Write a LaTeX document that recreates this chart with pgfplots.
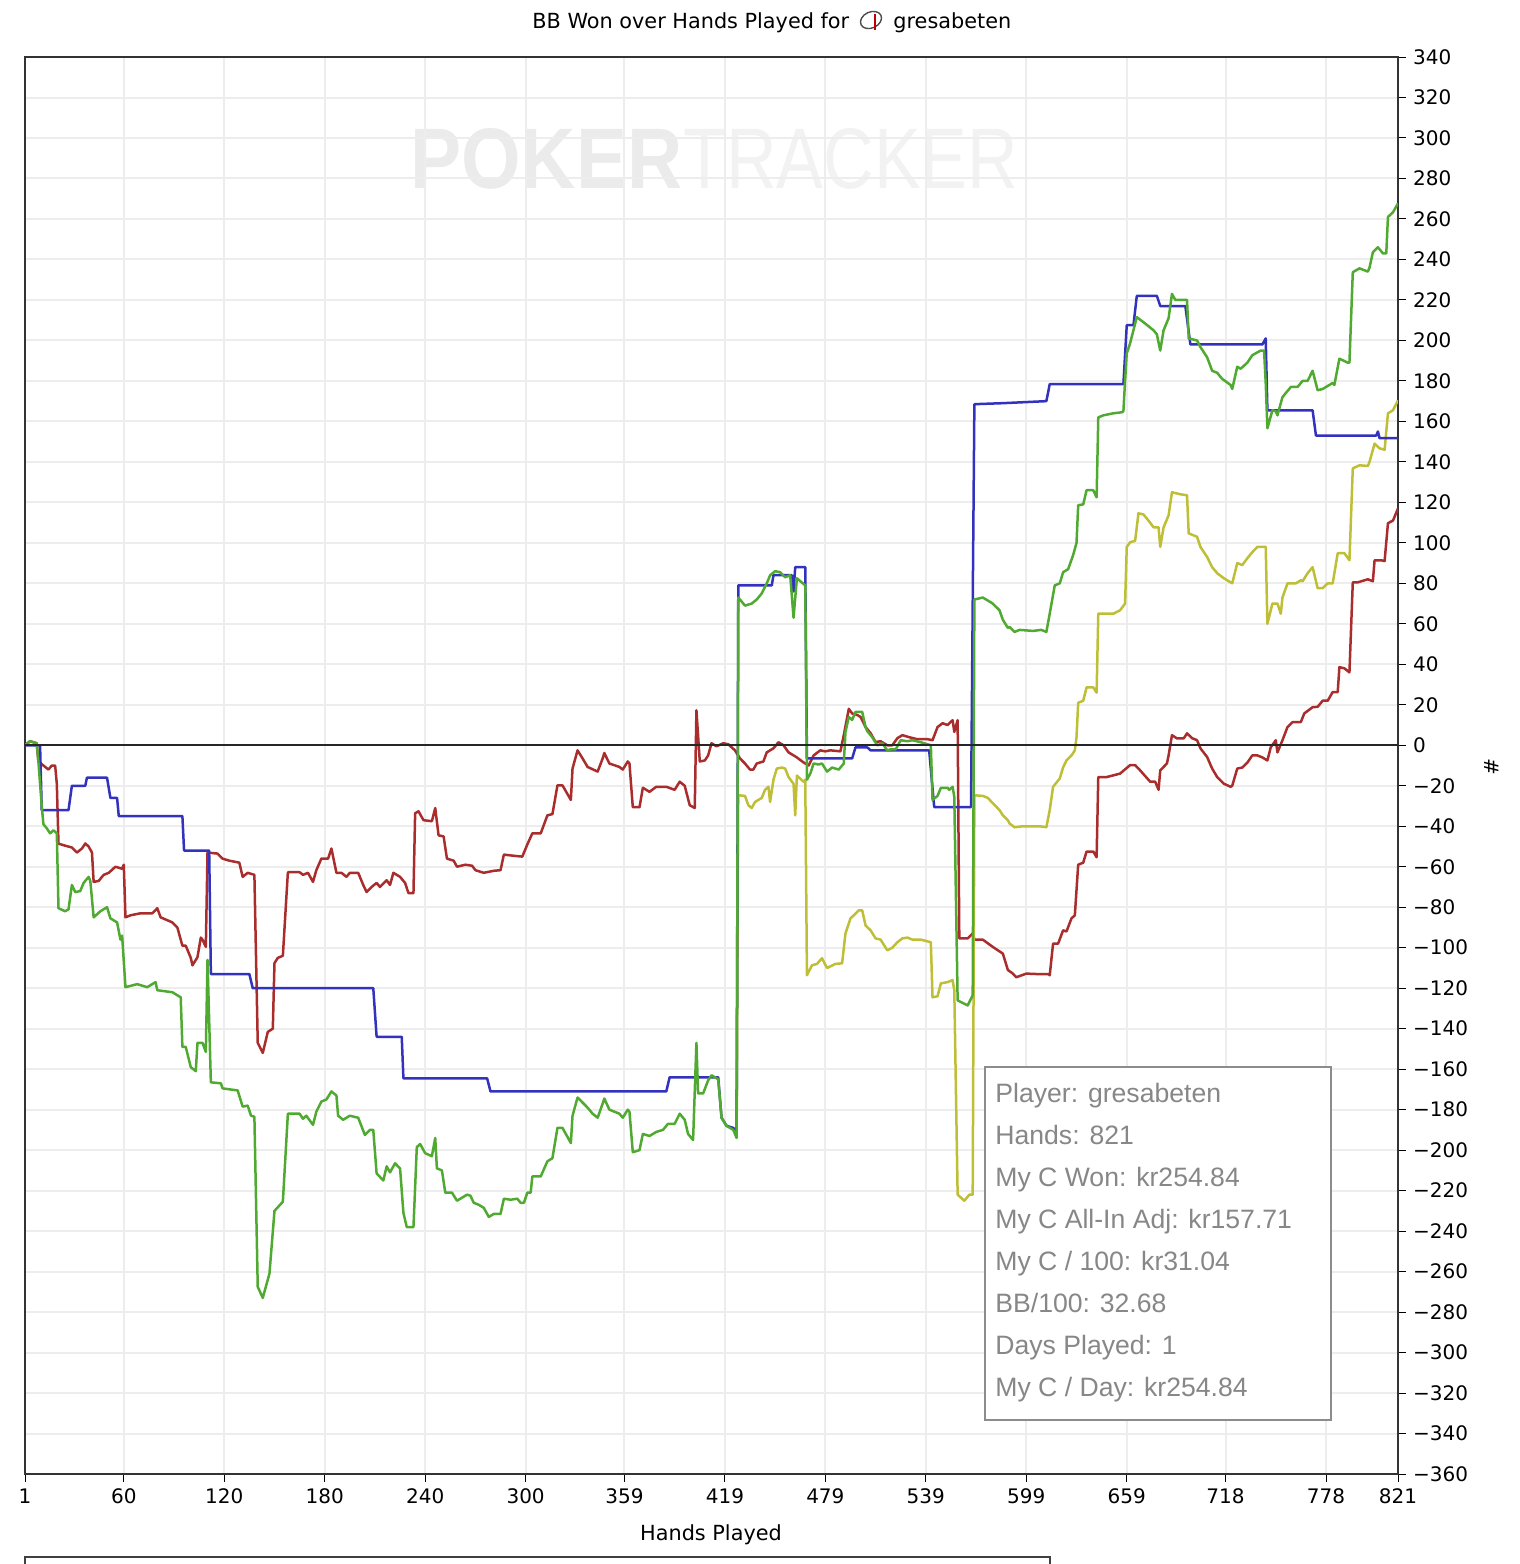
\documentclass[border=0pt]{standalone}
\usepackage{pgfplots}
\pgfplotsset{compat=1.18}
\usepackage{fontspec}
\setmainfont{DejaVu Sans}
\newfontfamily\tipfont{Liberation Sans}
\definecolor{sblue}{RGB}{50,50,190}
\definecolor{sgreen}{RGB}{80,170,50}
\definecolor{sred}{RGB}{170,45,45}
\definecolor{syellow}{RGB}{190,190,55}
\definecolor{tipgray}{RGB}{135,135,135}
\begin{document}
\begin{tikzpicture}[x=1pt,y=1pt]
\useasboundingbox (0,0) rectangle (760,-782);
% watermark
\node[anchor=base west, inner sep=0, text=black!8, font=\tipfont\bfseries\fontsize{43}{43}\selectfont, xscale=0.89] at (205,-94) {POKER};
\node[anchor=base west, inner sep=0, text=black!5, font=\tipfont\fontsize{43}{43}\selectfont, xscale=0.815] at (341.5,-94) {TRACKER};
% title
\node[anchor=base west, inner sep=0, font=\fontsize{10.4}{12}\selectfont] at (266,-14) {BB Won over Hands Played for};
\draw[black!70, line width=0.7pt, rotate around={25:(435.5,-10)}] (435.5,-10) ellipse (5.5pt and 4pt);
\draw[red!75!black, line width=1.1pt] (437.5,-7) -- (437.5,-15);
\node[anchor=base west, inner sep=0, font=\fontsize{10.4}{12}\selectfont] at (446.5,-14) {gresabeten};
\begin{axis}[
  at={(12.5pt,-737pt)}, anchor=south west,
  scale only axis, width=686.5pt, height=708.5pt,
  xmin=1, xmax=821, ymin=-360, ymax=340,
  xtick={1,60,120,180,240,300,359,419,479,539,599,659,718,778,821},
  ytick={-360,-340,...,340},
  yticklabels={−360,−340,−320,−300,−280,−260,−240,−220,−200,−180,−160,−140,−120,−100,−80,−60,−40,−20,0,20,40,60,80,100,120,140,160,180,200,220,240,260,280,300,320,340},
  xtick pos=left, ytick pos=right, yticklabel pos=right,
  tick align=outside,
  major tick length=4pt,
  tick style={black, line width=0.5pt},
  grid=major, major grid style={black!7, line width=1pt},
  axis line style={black!80, line width=1pt},
  tick label style={font=\fontsize{10}{12}\selectfont},
  /pgf/number format/assume math mode=true,
  every axis plot/.append style={line width=1.25pt, line join=round, no markers},
]
% red
\addplot[sred] coordinates {
(1,0) (4,2) (8,1) (9,-8) (12,-10) (15,-12) (17,-10) (19,-10) (20,-19) (21,-48.6) (25,-49.6) (29,-50.5) (32,-53) (35,-51) (37,-48.5) (39,-50) (41,-53) (42,-67.5) (45,-67) (48,-64) (51,-63) (55,-60) (59,-61) (60,-59) (61,-85) (64,-84) (70,-83) (74,-83) (77,-83) (80,-80.5) (82,-85) (89,-87.5) (92,-90) (95,-99) (97,-99) (100,-105) (101,-108.7) (104,-104.7) (106,-95) (107,-96) (109,-99.6) (110,-53) (116,-53.5) (119,-56) (123,-57) (129,-58) (131,-65) (134,-63) (138,-64) (140,-147) (143,-152) (146,-141.6) (149,-140) (150,-107.6) (152,-105) (155,-104) (158,-62.7) (165,-62.7) (167,-64) (170,-63) (173,-67.5) (175,-61.7) (178,-56) (182,-56) (184,-51) (187,-63) (190,-63) (193,-65) (195,-63) (200,-63) (203,-69) (205,-72.5) (208,-70) (211,-68) (213,-70) (217,-66.7) (219,-69) (221,-63) (225,-65) (228,-68) (230,-73) (233,-73) (234,-33.6) (236,-32.6) (239,-37) (244,-37.5) (246,-31) (248,-44.5) (251,-45) (253,-56) (257,-57) (259,-60) (264,-59) (268,-59.5) (270,-61.7) (275,-63) (281,-62) (285,-61.7) (287,-54) (292,-54.5) (298,-55) (301,-49) (304,-43.5) (309,-43.5) (313,-34.6) (316,-34) (319,-19.8) (322,-19.8) (327,-27) (328,-11.5) (331,-2.5) (334,-6.5) (337,-10.7) (343,-13) (346,-6.5) (347,-3.8) (350,-9) (356,-10.7) (358,-12) (361,-8) (362,-9) (364,-30.6) (368,-30.6) (370,-21) (374,-23) (378,-20.5) (384,-20.5) (389,-22) (392,-18) (395,-20) (398,-29.6) (401,-31) (402,17.3) (404,-8) (407,-7.5) (409,-5) (411,1) (414,-0.5) (418,1) (421,0.5) (425,-2.5) (428,-6.5) (431,-9) (434,-12) (436,-12) (438,-9) (442,-8) (444,-3.5) (448,-1.5) (451,1.5) (454,0) (457,-3.5) (462,-6) (466,-8.5) (469,-10) (472,-5) (476,-2.5) (479,-3) (482,-2.5) (488,-3) (490,5) (493,18) (495,15.7) (498,15) (500,14) (503,9) (506,6) (509,1.6) (512,2) (516,0) (519,0) (522,3.5) (525,5) (529,4) (534,3) (540,3) (543,2.5) (546,9) (549,10.9) (552,10) (555,12.4) (556,6.6) (558,12.4) (559,-95.4) (564,-95.4) (567,-93) (568,-96) (573,-96) (579,-99.6) (585,-102.9) (588,-111) (591,-112.8) (593,-114.6) (599,-112.8) (605,-113) (612,-113) (613,-113.6) (615,-98) (618,-98) (621,-91.4) (623,-92) (626,-85.5) (628,-84) (630,-59) (633,-58) (635,-52.5) (639,-52.5) (641,-55.3) (642,-15.7) (647,-15.7) (655,-14) (661,-9.8) (664,-9.8) (667,-12.4) (673,-18) (676,-18) (678,-22) (679,-12.4) (683,-9) (684,-5) (686,5) (689,3.4) (693,3.4) (695,5.9) (698,3.5) (701,2.5) (703,-1.5) (707,-5.8) (710,-11.5) (713,-15.7) (717,-19) (721,-20.5) (722,-20) (725,-11.5) (728,-11) (731,-8.6) (734,-5) (737,-5) (740,-6) (743,-7.5) (745,-1) (748,2.5) (749,-3.5) (752,2.5) (755,9) (758,11.4) (763,11.5) (765,15.7) (770,18.8) (773,19) (776,22) (779,22) (782,26.3) (785,26.3) (786,38.6) (789,38) (792,36) (794,80.5) (797,80.5) (801,81.5) (803,82) (806,81) (807,91.4) (811,91.4) (813,91) (815,109.7) (818,111) (821,117)
};
% yellow
\addplot[syellow] coordinates {
(426,-194) (427,-24.7) (431,-25) (433,-29.6) (435,-31) (437,-28) (441,-26) (443,-22) (445,-20.5) (446,-28) (448,-17) (450,-11.5) (453,-11) (455,-11.5) (457,-15.7) (460,-19) (461,-34.6) (462,-15) (466,-18) (467,-17) (468,-113.6) (471,-108.7) (474,-108) (477,-105.2) (480,-110) (485,-108) (489,-107.7) (491,-93) (494,-85.5) (496,-84) (499,-81.5) (501,-81.5) (503,-89) (506,-91.4) (509,-95.4) (512,-96) (516,-101.3) (519,-100) (522,-97.3) (525,-95.4) (528,-95) (531,-96) (536,-96) (542,-97.3) (543,-124.5) (546,-124) (548,-117.6) (552,-117) (555,-116) (556,-121) (558,-222) (562,-225) (565,-222) (567,-222) (568,-24.7) (573,-25) (576,-26) (579,-28.6) (583,-32) (585,-34.6) (588,-37) (589,-38.6) (592,-40.5) (597,-40) (603,-40) (607,-40) (611,-40.5) (613,-32) (615,-20.5) (619,-16.4) (621,-10.9) (623,-7.5) (626,-5) (628,-2.5) (629,4) (630,21) (633,22) (635,28.6) (639,28.6) (641,26) (642,65) (646,65) (651,65) (655,66.7) (658,70) (659,98) (661,100.3) (664,101) (666,114.6) (669,114) (672,111) (675,107.7) (678,107.7) (679,98) (681,107.7) (684,113.6) (686,125) (691,124) (695,123.5) (696,104.7) (701,103) (703,98) (707,93) (710,88) (713,85) (717,82.5) (721,80.5) (722,80) (725,90) (728,89) (731,92.4) (734,95.4) (737,98) (742,98) (743,60) (746,70) (749,70) (751,65) (752,73) (755,80) (760,80) (763,81.5) (764,81) (767,85) (770,88) (773,77.6) (776,77.6) (779,80) (782,80) (785,94.9) (789,94.9) (792,91.4) (794,136.8) (798,138.3) (803,138) (804,140) (807,149) (810,146.7) (813,146) (815,164) (818,165.5) (821,170.4)
};
% blue
\addplot[sblue] coordinates {
(1,0) (10,0) (11,-32) (27,-32) (29,-20) (37,-20) (38,-16) (50,-16) (52,-26) (56,-26) (57,-35) (95,-35) (96,-52) (111,-52) (112,-113) (135,-113) (137,-120) (209,-120) (211,-144) (226,-144) (227,-164.5) (277,-164.5) (279,-171) (384,-171) (386,-164) (415,-164) (417,-184) (420,-188) (424,-189) (426,-191) (427,79) (447,79) (448,84) (459,84) (460,76) (461,88) (467,88) (468,-6.5) (495,-6.5) (497,-1) (504,-1) (506,-2.5) (541,-2.5) (544,-30.5) (566,-30.5) (568,168.5) (585,169) (611,170) (613,178.4) (657,178.4) (659,207.5) (663,207.5) (665,222) (677,222) (679,217) (694,217) (697,198) (740,198) (742,201) (743,165.5) (770,165.5) (772,153) (808,153) (809,155) (810,151.7) (821,151.7)
};
% green
\addplot[sgreen] coordinates {
(1,0) (4,2) (8,1) (9,-8) (10,-19) (11,-30) (12,-39) (14,-41) (16,-43.5) (18,-42) (20,-43.5) (21,-80.5) (25,-82) (27,-81) (29,-69) (31,-72.5) (34,-72) (36,-68) (39,-65) (40,-67) (42,-85) (46,-82) (50,-80) (52,-85.5) (56,-87.5) (58,-96) (59,-94) (61,-119.5) (68,-118) (74,-119.5) (79,-117) (80,-121) (89,-122) (94,-124.5) (95,-149) (97,-149) (100,-159) (103,-161) (104,-147) (107,-147) (109,-151.5) (110,-106) (112,-166.5) (118,-167) (119,-169.5) (128,-170.5) (131,-178.5) (134,-178) (136,-183) (138,-183.5) (140,-267.5) (143,-273) (147,-261) (150,-230) (155,-225.5) (158,-182) (165,-182) (167,-184.5) (169,-183) (173,-187.5) (175,-181) (178,-176) (181,-175) (184,-171) (187,-173) (188,-183) (191,-185) (195,-183) (200,-184) (204,-192.5) (207,-190) (209,-190) (211,-211.5) (215,-215) (217,-208) (219,-211) (222,-206.5) (225,-209) (227,-231) (229,-238) (233,-238) (235,-198.5) (237,-197) (240,-201.5) (244,-203) (246,-194) (247,-209) (250,-210) (252,-221) (256,-221) (259,-225) (262,-223.5) (265,-222) (267,-222.5) (269,-226) (272,-227) (275,-228.5) (278,-233) (281,-231.5) (285,-231.5) (287,-224) (291,-224.5) (295,-224) (297,-226) (299,-226) (301,-221) (303,-221) (304,-213) (309,-213) (313,-205.5) (316,-204) (319,-189) (322,-189) (327,-196.5) (328,-183) (331,-174) (337,-179) (340,-182) (343,-184) (346,-177) (347,-174.5) (350,-180) (356,-182) (358,-184) (361,-180) (362,-181) (364,-201) (368,-200) (370,-192) (374,-193) (378,-191) (382,-190) (385,-187) (389,-187) (392,-182) (395,-185) (397,-192) (400,-195) (402,-147) (403,-172) (406,-172) (409,-165.5) (411,-163) (415,-165) (417,-184) (420,-188) (424,-190) (426,-194) (427,73) (428,72) (431,69) (435,70) (438,72) (441,75) (444,80) (446,84) (449,86) (452,85.5) (455,83) (458,84) (460,63) (462,82.5) (467,79) (468,-17) (470,-14) (472,-9) (475,-9.5) (477,-9) (480,-13) (483,-11) (487,-12) (490,-9) (491,6.5) (493,14) (495,12.5) (497,16.5) (501,16.5) (503,9) (504,7) (507,4) (510,0) (513,1) (516,-2.5) (518,-2) (521,-2) (524,2.5) (528,2) (531,2.5) (536,1.5) (542,0) (543,-27) (546,-25) (548,-21) (552,-21) (553,-22) (555,-20.5) (556,-25.5) (558,-126) (564,-128.5) (567,-123.5) (568,72) (573,73) (579,70) (583,66.7) (585,62) (588,58) (589,58.5) (592,56) (595,57) (603,56.5) (608,57) (611,56) (613,65) (616,79) (619,80) (621,85.5) (624,87) (627,94) (629,100) (630,118.6) (633,119) (635,126) (639,126) (641,122.5) (642,162) (645,163) (651,164) (656,164.5) (657,165) (658,180) (659,193.6) (661,198.6) (665,211.5) (669,209) (675,205) (677,203) (679,195) (681,205) (684,211) (686,223) (688,220) (695,220) (696,201) (701,200) (703,196.7) (707,191.7) (710,185) (713,184) (716,181) (721,178) (722,176) (725,187) (727,186) (731,189) (734,192.7) (739,195) (741,195) (742,179) (743,156.6) (746,165.5) (748,165) (749,163) (752,172) (757,177) (761,177) (764,180) (767,180) (770,185) (773,175.4) (776,176) (782,179) (783,178) (786,191) (791,189) (792,189) (794,233.7) (798,235.6) (803,234) (804,236) (806,243.6) (809,246) (812,243) (814,243) (815,261) (818,263.3) (821,267.7)
};
% zero line
\addplot[black!85, line width=0.9pt] coordinates {(1,0) (821,0)};
\end{axis}
% axis labels
\node[font=\fontsize{10.4}{12}\selectfont] at (355.5,-767.5) {Hands Played};
\node[font=\fontsize{10}{12}\selectfont, rotate=-90] at (746,-383.5) {\#};
% info box
\draw[black!45, fill=white, line width=0.7pt] (492.5,-533.5) rectangle (665.5,-710);
\begin{scope}[every node/.style={anchor=base west, inner sep=0, text=tipgray, font=\tipfont\fontsize{13.3}{15}\selectfont}]
\node at (497.5,-551) {Player: gresabeten};
\node at (497.5,-572) {Hands: 821};
\node at (497.5,-593) {My C Won: kr254.84};
\node at (497.5,-614) {My C All-In Adj: kr157.71};
\node at (497.5,-635) {My C / 100: kr31.04};
\node at (497.5,-656) {BB/100: 32.68};
\node at (497.5,-677) {Days Played: 1};
\node at (497.5,-698) {My C / Day: kr254.84};
\end{scope}
% partial box at bottom
\draw[black!75, line width=1pt] (12.5,-783) -- (12.5,-778.5) -- (525,-778.5) -- (525,-783);
\end{tikzpicture}
\end{document}
